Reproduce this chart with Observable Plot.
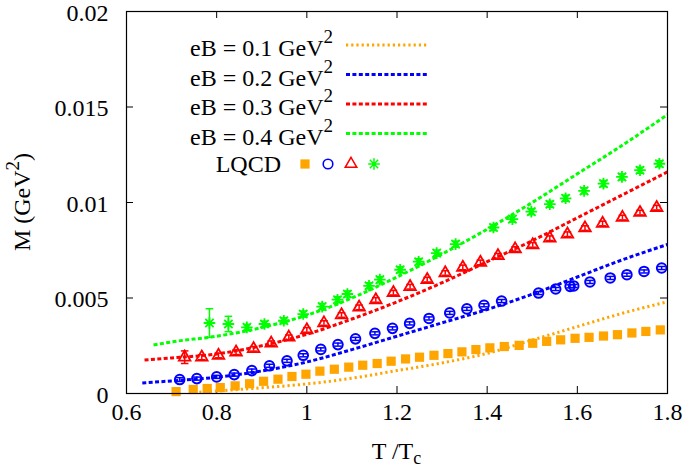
<!DOCTYPE html>
<html><head><meta charset="utf-8">
<script src="https://cdn.jsdelivr.net/npm/d3@7"></script>
<script src="https://cdn.jsdelivr.net/npm/@observablehq/plot@0.6"></script>
<style>body{margin:0;background:#fff}#chart{width:685px;height:468px}</style>
</head><body><div id="chart"></div>
<script>
// ---- axes ----
const xTicks = [0.6, 0.8, 1, 1.2, 1.4, 1.6, 1.8];
const xTickLabels = ["0.6", "0.8", "1", "1.2", "1.4", "1.6", "1.8"];
const yTicks = [0, 0.005, 0.01, 0.015, 0.02];
const yTickLabels = ["0", "0.005", "0.01", "0.015", "0.02"];
const xLabel = ["T /T", "c"];
const yLabel = ["M (GeV", "2", ")"];

// ---- series ----
const seriesNames = ["eB = 0.1 GeV", "eB = 0.2 GeV", "eB = 0.3 GeV", "eB = 0.4 GeV"];
const seriesColors = ["#ffa500", "#0000ff", "#ff0000", "#00ff00"];
const lqcdLabel = "LQCD";

// model curves
const curveT_01 = [0.75, 0.8, 0.9, 1.0, 1.1, 1.2, 1.3, 1.4, 1.5, 1.6, 1.7, 1.8];
const curveM_01 = [0.00005, 0.00013, 0.0003, 0.0005, 0.0008, 0.0012, 0.0016, 0.0021, 0.0028, 0.0035, 0.0042, 0.0048];
const curveT_02 = [0.635, 0.7, 0.8, 0.9, 1.0, 1.1, 1.2, 1.3, 1.4, 1.5, 1.6, 1.7, 1.8];
const curveM_02 = [0.00055, 0.00066, 0.00085, 0.00118, 0.00165, 0.0023, 0.0030, 0.0037, 0.0044, 0.0052, 0.0061, 0.0070, 0.0078];
const curveT_03 = [0.64, 0.7, 0.8, 0.9, 1.0, 1.1, 1.2, 1.3, 1.4, 1.5, 1.6, 1.7, 1.8];
const curveM_03 = [0.00175, 0.00186, 0.00207, 0.0025, 0.0031, 0.0039, 0.0048, 0.0058, 0.0069, 0.0080, 0.0092, 0.0104, 0.0116];
const curveT_04 = [0.66, 0.7, 0.8, 0.9, 1.0, 1.1, 1.2, 1.3, 1.4, 1.5, 1.6, 1.7, 1.8];
const curveM_04 = [0.00254, 0.0027, 0.0030, 0.00345, 0.0041, 0.0050, 0.0061, 0.0073, 0.0086, 0.0100, 0.0115, 0.0130, 0.0146];

// LQCD points
const lqcdT_01 = [0.710,0.748,0.779,0.808,0.841,0.873,0.904,0.936,0.967,0.998,1.029,1.061,1.093,1.124,1.156,1.187,1.219,1.250,1.282,1.313,1.344,1.375,1.406,1.438,1.471,1.501,1.532,1.563,1.595,1.626,1.658,1.689,1.721,1.752,1.784];
const lqcdM_01 = [0.0001,0.00021,0.00026,0.00031,0.0004,0.00051,0.00064,0.00075,0.00089,0.00101,0.00117,0.00127,0.00138,0.00148,0.00157,0.00169,0.00181,0.0019,0.002,0.00209,0.00218,0.0023,0.00239,0.00246,0.00252,0.00263,0.00273,0.00281,0.00289,0.00294,0.00301,0.00308,0.00317,0.00325,0.00333];

const lqcdT_02 = [0.718,0.756,0.800,0.839,0.878,0.917,0.956,0.992,1.031,1.069,1.108,1.151,1.190,1.228,1.271,1.317,1.355,1.393,1.432,1.514,1.552,1.584,1.592,1.628,1.673,1.710,1.748,1.787];
const lqcdM_02 = [0.00073,0.00078,0.00087,0.00099,0.0012,0.00145,0.00171,0.002,0.00231,0.00256,0.00286,0.00315,0.00341,0.00367,0.00393,0.00422,0.00443,0.00462,0.00484,0.00526,0.00547,0.00561,0.00563,0.00584,0.00605,0.00622,0.00639,0.00657];
const lqcdE_02 = [0.0001,0.00008,0.00008,0.00008,0.00008,0.00008,0.00008,0.00008,0.00008,0.00008,0.00008,0.00008,0.00008,0.00008,0.00008,0.00008,0.00008,0.00008,0.00008,0.00008,0.00008,0.00008,0.00008,0.00008,0.00008,0.00008,0.00008,0.00008];

const lqcdT_03 = [0.729,0.767,0.804,0.843,0.882,0.921,0.960,1.000,1.038,1.077,1.116,1.153,1.192,1.229,1.267,1.307,1.346,1.385,1.424,1.462,1.501,1.539,1.578,1.617,1.656,1.700,1.739,1.776];
const lqcdM_03 = [0.0019,0.0019,0.00199,0.00216,0.00234,0.00263,0.00294,0.00333,0.00369,0.00411,0.00451,0.0049,0.00528,0.00559,0.00596,0.00631,0.0066,0.00686,0.00721,0.00756,0.00778,0.00813,0.00834,0.00866,0.0089,0.00921,0.00947,0.00973];
const lqcdE_03 = [0.00033,0.00013,0.00012,0.00012,0.00012,0.00012,0.00012,0.00012,0.00012,0.00012,0.00012,0.00012,0.00012,0.00012,0.00012,0.00012,0.00012,0.00012,0.00012,0.00012,0.00012,0.00012,0.00012,0.00012,0.00012,0.00012,0.00012,0.00012];

const lqcdT_04 = [0.784,0.826,0.867,0.906,0.949,0.992,1.034,1.068,1.090,1.138,1.162,1.207,1.248,1.288,1.330,1.414,1.456,1.498,1.539,1.574,1.615,1.658,1.699,1.739,1.782];
const lqcdM_04 = [0.00369,0.00364,0.00346,0.00364,0.00381,0.00416,0.00455,0.00491,0.00521,0.00564,0.00596,0.00648,0.0069,0.00735,0.00782,0.00869,0.00913,0.00952,0.00991,0.01022,0.01061,0.01099,0.01134,0.01169,0.01203];
const lqcdE_04 = [0.00075,0.0004,0.00016,0.00015,0.00015,0.00016,0.00016,0.00016,0.00016,0.00016,0.00016,0.00016,0.00016,0.00016,0.00016,0.00016,0.00016,0.00016,0.00016,0.00016,0.00016,0.00016,0.00016,0.00016,0.00016];

// ---- build tables ----
const zipCurve = (T, M) => T.map((t, i) => ({T: t, M: M[i]}));
const zipPts = (T, M, E) => T.map((t, i) => ({T: t, M: M[i], E: E ? E[i] : 0}));
const curves = [zipCurve(curveT_01, curveM_01), zipCurve(curveT_02, curveM_02), zipCurve(curveT_03, curveM_03), zipCurve(curveT_04, curveM_04)];
const pts01 = zipPts(lqcdT_01, lqcdM_01);
const pts02 = zipPts(lqcdT_02, lqcdM_02, lqcdE_02);
const pts03 = zipPts(lqcdT_03, lqcdM_03, lqcdE_03);
const pts04 = zipPts(lqcdT_04, lqcdM_04, lqcdE_04);

// custom symbols
const starSymbol = {draw(ctx, size) {
  const r = Math.sqrt(size / Math.PI), q = r * 0.72;
  ctx.moveTo(-r, 0); ctx.lineTo(r, 0); ctx.moveTo(0, -r); ctx.lineTo(0, r);
  ctx.moveTo(-q, -q); ctx.lineTo(q, q); ctx.moveTo(-q, q); ctx.lineTo(q, -q);
}};
const capSymbol = {draw(ctx, size) {
  const r = Math.sqrt(size / Math.PI);
  ctx.moveTo(-r, 0); ctx.lineTo(r, 0);
}};

const W = 685, H = 468, mL = 126, mR = 18, mT = 11, mB = 75;
const innerW = W - mL - mR, innerH = H - mT - mB, tk = 7;
const font = "Liberation Serif, Times New Roman, serif";
const FS = 24;
const dashes = ["2.2,3", "4,2.4", "4,2.4", "4,2.4"];

const errMarks = (pts, color) => [
  Plot.ruleX(pts, {x: "T", y1: d => d.M - d.E, y2: d => d.M + d.E, stroke: color, strokeWidth: 1.5}),
  Plot.dot(pts, {x: "T", y: d => d.M - d.E, symbol: capSymbol, r: 3.8, stroke: color, strokeWidth: 1.5}),
  Plot.dot(pts, {x: "T", y: d => d.M + d.E, symbol: capSymbol, r: 3.8, stroke: color, strokeWidth: 1.5})
];

const svg = Plot.plot({
  width: W, height: H,
  marginLeft: mL, marginRight: mR, marginTop: mT, marginBottom: mB,
  style: {fontFamily: font, fontSize: FS + "px", background: "white", color: "black"},
  x: {domain: [0.6, 1.8], axis: null},
  y: {domain: [0, 0.02], axis: null},
  marks: [
    // inward ticks (bottom, top, left, right)
    Plot.tickX(xTicks, {x: d => d, insetTop: innerH - tk, stroke: "black"}),
    Plot.tickX(xTicks, {x: d => d, insetBottom: innerH - tk, stroke: "black"}),
    Plot.tickY(yTicks, {y: d => d, insetRight: innerW - tk, stroke: "black"}),
    Plot.tickY(yTicks, {y: d => d, insetLeft: innerW - tk, stroke: "black"}),
    Plot.axisX({ticks: xTicks, anchor: "bottom", tickSize: 0, tickPadding: 9, label: null,
      tickFormat: d => xTickLabels[xTicks.findIndex(t => Math.abs(t - d) < 1e-9)], fontSize: FS}),
    Plot.axisY({ticks: yTicks, anchor: "left", tickSize: 0, tickPadding: 18, label: null, dy: 1.5,
      tickFormat: d => yTickLabels[yTicks.findIndex(t => Math.abs(t - d) < 1e-12)], fontSize: FS}),
    // model curves
    ...curves.map((c, i) => Plot.line(c, {x: "T", y: "M", stroke: seriesColors[i], strokeWidth: 3,
      strokeDasharray: dashes[i], curve: "monotone-x", strokeLinecap: "butt"})),
    // LQCD
    Plot.dot(pts01, {x: "T", y: "M", symbol: "square", r: 5.2, fill: seriesColors[0], stroke: "none"}),
    ...errMarks(pts02, seriesColors[1]),
    Plot.dot(pts02, {x: "T", y: "M", symbol: "circle", r: 4.8, stroke: seriesColors[1], strokeWidth: 2, fill: "none"}),
    ...errMarks(pts03, seriesColors[2]),
    Plot.dot(pts03, {x: "T", y: "M", symbol: "triangle", r: 4.3, stroke: seriesColors[2], strokeWidth: 1.8, fill: "none"}),
    ...errMarks(pts04, seriesColors[3]),
    Plot.dot(pts04, {x: "T", y: "M", symbol: starSymbol, r: 5.8, stroke: seriesColors[3], strokeWidth: 1.8}),
    Plot.frame({stroke: "black", strokeWidth: 1.2})
  ]
});

const s = d3.select(svg);
// axis titles
const xt = s.append("text").attr("x", mL + innerW / 2).attr("y", 459).attr("text-anchor", "middle")
  .attr("font-size", FS).attr("font-family", font).attr("fill", "black");
xt.append("tspan").text(xLabel[0]);
xt.append("tspan").attr("font-size", 18).attr("dy", 5).text(xLabel[1]);
const yt = s.append("text").attr("transform", `translate(30,${mT + innerH / 2}) rotate(-90)`).attr("text-anchor", "middle")
  .attr("font-size", FS).attr("font-family", font).attr("fill", "black");
yt.append("tspan").text(yLabel[0]);
yt.append("tspan").attr("font-size", 19).attr("dy", -11).text(yLabel[1]);
yt.append("tspan").attr("dy", 11).text(yLabel[2]);

// legend
const lg = s.append("g").attr("font-family", font).attr("font-size", FS).attr("fill", "black");
const rowY = [45, 74.5, 104, 133.5];
seriesNames.forEach((name, i) => {
  const t = lg.append("text").attr("x", 333).attr("y", rowY[i] + 11).attr("text-anchor", "end");
  t.append("tspan").text(name);
  t.append("tspan").attr("font-size", 19).attr("dy", -13).text("2");
  lg.append("line").attr("x1", 346).attr("x2", 428).attr("y1", rowY[i]).attr("y2", rowY[i])
    .attr("stroke", seriesColors[i]).attr("stroke-width", 3).attr("stroke-dasharray", dashes[i]);
});
lg.append("text").attr("x", 281).attr("y", 172).attr("text-anchor", "end").text(lqcdLabel);
const ly = 164;
lg.append("path").attr("transform", `translate(305,${ly})`).attr("d", d3.symbol(d3.symbolSquare, Math.PI * 5.2 * 5.2)()).attr("fill", seriesColors[0]);
lg.append("path").attr("transform", `translate(328,${ly})`).attr("d", d3.symbol(d3.symbolCircle, Math.PI * 4.8 * 4.8)()).attr("fill", "none").attr("stroke", seriesColors[1]).attr("stroke-width", 1.6);
lg.append("path").attr("transform", `translate(351,${ly})`).attr("d", d3.symbol(d3.symbolTriangle, Math.PI * 4.3 * 4.3)()).attr("fill", "none").attr("stroke", seriesColors[2]).attr("stroke-width", 1.5);
lg.append("path").attr("transform", `translate(374,${ly})`).attr("d", d3.symbol(starSymbol, Math.PI * 5.8 * 5.8)()).attr("fill", "none").attr("stroke", seriesColors[3]).attr("stroke-width", 1.5);

document.getElementById("chart").appendChild(svg);
</script></body></html>
